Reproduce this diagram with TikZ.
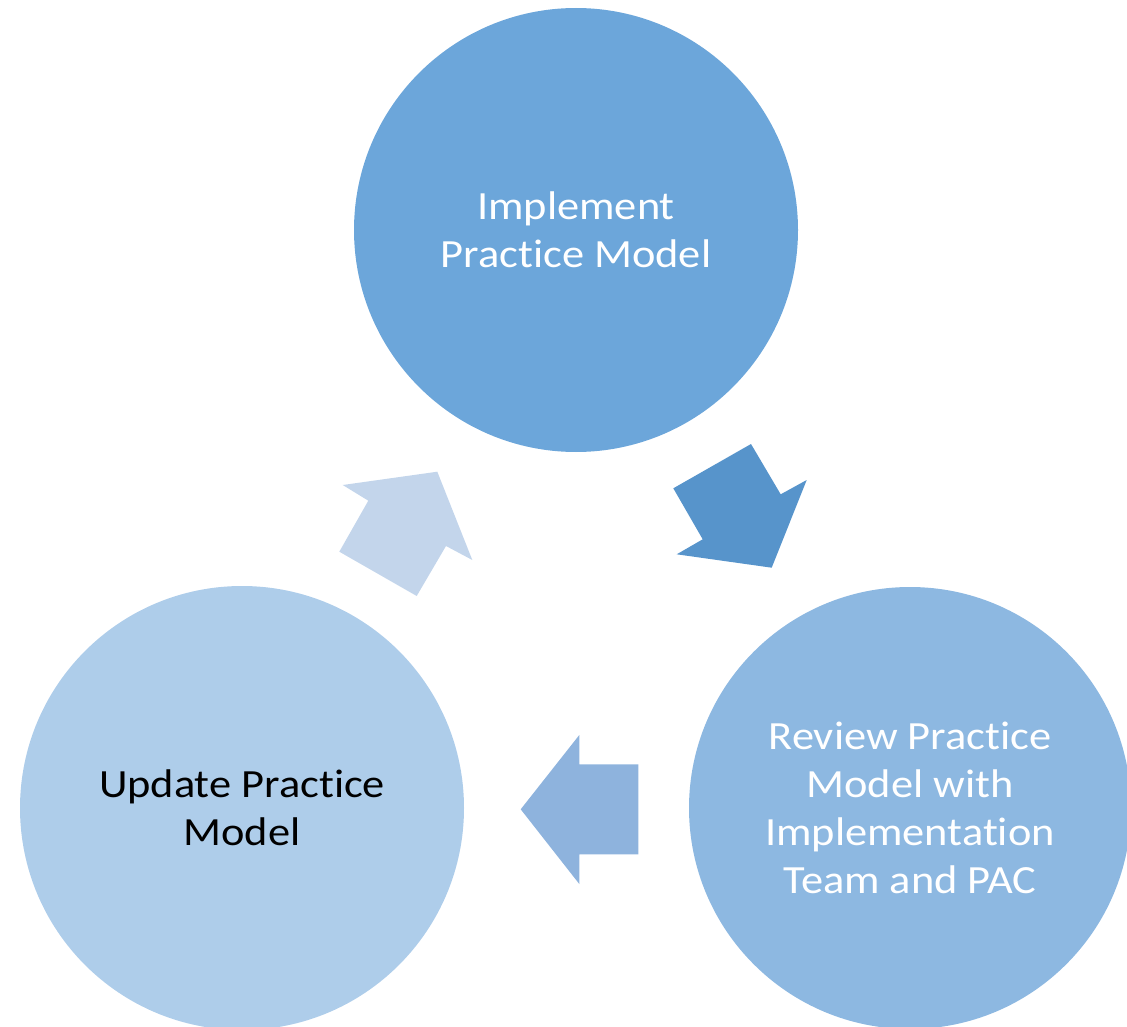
\documentclass[tikz,border=0pt]{standalone}
\usepackage{fontspec}
\setmainfont{Carlito}[Ligatures=NoCommon, FakeStretch=1.11]
\definecolor{ctop}{HTML}{6CA6DA}
\definecolor{cright}{HTML}{8DB8E1}
\definecolor{cleft}{HTML}{AECDEA}
\definecolor{aright}{HTML}{5794CB}
\definecolor{abottom}{HTML}{8EB3DD}
\definecolor{aleft}{HTML}{C3D5EB}
\tikzset{
  stage/.style={circle, minimum size=444pt, inner sep=0pt, align=center,
    font=\fontsize{40}{48}\selectfont},
  cyclearrow/.style={draw=none}
}
\begin{document}
\begin{tikzpicture}[x=1pt,y=-1pt]
\useasboundingbox (0,0) rectangle (1127,1027);
\clip (0,0) rectangle (1127,1027);
\node[stage, fill=ctop, text=white] (implement) at (576,230) {Implement\\Practice Model};
\node[stage, fill=cright, text=white, minimum size=442pt] (review) at (910,808) {Review Practice\\Model with\\Implementation\\Team and PAC};
\node[stage, fill=cleft, text=black] (update) at (242,808) {Update Practice\\Model};
% arrow from implement to review
\fill[aright] (673.3,488.3) -- (751,444) -- (780.7,494.3) -- (806.7,480) -- (771.7,567.7) -- (676.7,554.3) -- (702.7,539.3) -- cycle;
% arrow from review to update
\fill[abottom] (638.3,764.3) -- (579.3,764.3) -- (579.3,735) -- (520.7,809.3) -- (579.3,884) -- (579.3,854.3) -- (638.3,854.3) -- cycle;
% arrow from update to implement
\fill[aleft] (342.7,485) -- (437.3,471.7) -- (472.3,560) -- (446,546) -- (416.7,596) -- (339.3,551.7) -- (368.3,500.7) -- cycle;
\end{tikzpicture}
\end{document}
